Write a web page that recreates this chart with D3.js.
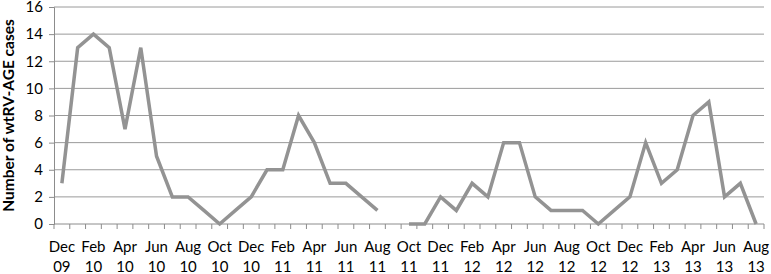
<!DOCTYPE html>
<html>
<head>
<meta charset="utf-8">
<script src="https://cdn.jsdelivr.net/npm/d3@7"></script>
<style>
  body { margin: 0; background: #fff; }
  svg text { font-family: Lato, "Open Sans", sans-serif; fill: #000; }
</style>
</head>
<body>
<svg id="chart" width="771" height="274"></svg>
<script>
// months Dec 09 .. Aug 13, labelled every second month
const months = ["Dec 09","Jan 10","Feb 10","Mar 10","Apr 10","May 10","Jun 10","Jul 10","Aug 10","Sep 10","Oct 10","Nov 10",
  "Dec 10","Jan 11","Feb 11","Mar 11","Apr 11","May 11","Jun 11","Jul 11","Aug 11","Sep 11","Oct 11","Nov 11",
  "Dec 11","Jan 12","Feb 12","Mar 12","Apr 12","May 12","Jun 12","Jul 12","Aug 12","Sep 12","Oct 12","Nov 12",
  "Dec 12","Jan 13","Feb 13","Mar 13","Apr 13","May 13","Jun 13","Jul 13","Aug 13"];
const cases = [3,13,14,13,7,13,5,2,2,1,0,1,
  2,4,4,8,6,3,3,2,1,null,0,0,
  2,1,3,2,6,6,2,1,1,1,0,1,
  2,6,3,4,8,9,2,3,0];
const yTicks = [0,2,4,6,8,10,12,14,16];

const svg = d3.select("#chart");
const plotL = 54, plotR = 764, plotT = 7, plotB = 224;

const x = d3.scaleBand().domain(months).range([plotL, plotR]);
const y = d3.scaleLinear().domain([0, 16]).range([plotB, plotT]);

// --- gridlines ---
svg.append("g")
  .selectAll("line")
  .data(yTicks.slice(1))
  .join("line")
  .attr("x1", plotL).attr("x2", plotR)
  .attr("y1", d => y(d)).attr("y2", d => y(d))
  .attr("stroke", "#9a9a9a").attr("stroke-width", 1);

// --- y axis ---
const yAxis = svg.append("g")
  .attr("transform", `translate(${plotL},0)`)
  .call(d3.axisLeft(y).tickValues(yTicks).tickSize(5).tickPadding(6));
yAxis.select(".domain").attr("stroke", "#8c8c8c");
yAxis.selectAll(".tick line").attr("stroke", "#8c8c8c");
yAxis.selectAll("text").attr("font-size", 15).style("fill", "#000");

// --- x axis (ticks between categories) ---
const xg = svg.append("g").attr("transform", `translate(0,${plotB})`);
xg.append("line").attr("x1", plotL).attr("x2", plotR)
  .attr("stroke", "#8c8c8c");
const bounds = months.map(m => x(m)).concat([plotR]);
xg.selectAll("line.tk").data(bounds).join("line").attr("class", "tk")
  .attr("x1", d => d).attr("x2", d => d).attr("y1", 0).attr("y2", 5)
  .attr("stroke", "#8c8c8c");

const labelled = months.filter((m, i) => i % 2 === 0);
const lbl = xg.selectAll("text.lbl").data(labelled).join("text").attr("class", "lbl")
  .attr("x", d => x(d) + x.bandwidth() / 2)
  .attr("text-anchor", "middle")
  .attr("font-size", 15);
lbl.append("tspan").attr("x", d => x(d) + x.bandwidth() / 2).attr("y", 28).text(d => d.split(" ")[0]);
lbl.append("tspan").attr("x", d => x(d) + x.bandwidth() / 2).attr("y", 48).text(d => d.split(" ")[1]);

// --- y title ---
svg.append("text")
  .attr("transform", `translate(14,${(plotT + plotB) / 2}) rotate(-90)`)
  .attr("text-anchor", "middle")
  .attr("font-size", 15.5).attr("font-weight", "bold")
  .text("Number of wtRV-AGE cases");

// --- line ---
const line = d3.line()
  .defined(d => d.v !== null)
  .x(d => x(d.m) + x.bandwidth() / 2)
  .y(d => y(d.v));
svg.append("path")
  .datum(months.map((m, i) => ({ m, v: cases[i] })))
  .attr("d", line)
  .attr("fill", "none")
  .attr("stroke", "#939393")
  .attr("stroke-width", 3.5)
  .attr("stroke-linejoin", "miter");
</script>
</body>
</html>
